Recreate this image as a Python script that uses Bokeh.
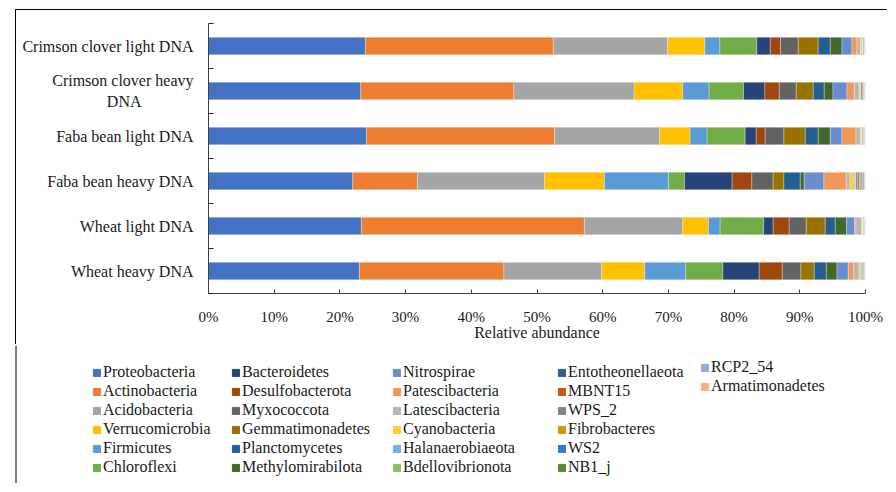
from bokeh.plotting import figure
from bokeh.models import (Range1d, FixedTicker, Legend, LegendItem, ColumnDataSource,
                          PrintfTickFormatter, Span)
from bokeh.embed import file_html
from bokeh.resources import INLINE

# ---------------- data ----------------
categories = ["Crimson clover light DNA", "Crimson clover heavy DNA", "Faba bean light DNA",
              "Faba bean heavy DNA", "Wheat light DNA", "Wheat heavy DNA"]
NB = "\u00a0"
category_labels = ["Crimson clover light DNA", "Crimson clover heavy\nDNA" + NB * 13,
                   "Faba bean light DNA", "Faba bean heavy DNA", "Wheat light DNA",
                   "Wheat heavy DNA"]

phyla = ["Proteobacteria", "Actinobacteria", "Acidobacteria", "Verrucomicrobia", "Firmicutes",
         "Chloroflexi", "Bacteroidetes", "Desulfobacterota", "Myxococcota", "Gemmatimonadetes",
         "Planctomycetes", "Methylomirabilota", "Nitrospirae", "Patescibacteria", "Latescibacteria",
         "Cyanobacteria", "Halanaerobiaeota", "Bdellovibrionota", "Entotheonellaeota", "MBNT15",
         "WPS_2", "Fibrobacteres", "WS2", "NB1_j", "RCP2_54", "Armatimonadetes"]

Proteobacteria = [23.88, 23.17, 24.03, 21.95, 23.27, 22.97]
Actinobacteria = [28.60, 23.31, 28.65, 9.85, 33.94, 21.99]
Acidobacteria = [17.42, 18.29, 16.00, 19.36, 14.98, 14.89]
Verrucomicrobia = [5.64, 7.42, 4.62, 9.10, 3.91, 6.55]
Firmicutes = [2.29, 4.01, 2.59, 9.75, 1.77, 6.25]
Chloroflexi = [5.63, 5.24, 5.79, 2.44, 6.62, 5.64]
Bacteroidetes = [2.04, 3.25, 1.68, 7.25, 1.46, 5.53]
Desulfobacterota = [1.57, 2.18, 1.37, 3.00, 2.44, 3.51]
Myxococcota = [2.69, 2.59, 2.85, 3.25, 2.59, 2.84]
Gemmatimonadetes = [3.04, 2.59, 3.25, 1.63, 2.89, 2.03]
Planctomycetes = [1.84, 1.67, 1.98, 2.49, 1.53, 1.83]
Methylomirabilota = [1.78, 1.33, 1.83, 0.60, 1.73, 1.63]
Nitrospirae = [1.52, 2.13, 1.78, 3.00, 1.22, 1.72]
Patescibacteria = [0.76, 1.11, 2.13, 3.40, 0.20, 0.82]
Latescibacteria = [0.57, 0.72, 0.66, 0.57, 0.87, 0.81]
Cyanobacteria = [0.25, 0.20, 0.20, 0.65, 0.15, 0.20]
Halanaerobiaeota = [0.08, 0.10, 0.06, 0.20, 0.05, 0.10]
Bdellovibrionota = [0.04, 0.05, 0.04, 0.10, 0.03, 0.15]
Entotheonellaeota = [0.10, 0.20, 0.10, 0.20, 0.08, 0.08]
MBNT15 = [0.06, 0.10, 0.04, 0.25, 0.04, 0.10]
WPS_2 = [0.04, 0.05, 0.06, 0.10, 0.03, 0.10]
Fibrobacteres = [0.04, 0.08, 0.05, 0.20, 0.05, 0.08]
WS2 = [0.03, 0.05, 0.10, 0.15, 0.04, 0.05]
NB1_j = [0.03, 0.04, 0.04, 0.10, 0.03, 0.05]
RCP2_54 = [0.04, 0.06, 0.05, 0.25, 0.04, 0.04]
Armatimonadetes = [0.02, 0.06, 0.05, 0.16, 0.04, 0.04]

series_values = [Proteobacteria, Actinobacteria, Acidobacteria, Verrucomicrobia, Firmicutes,
                 Chloroflexi, Bacteroidetes, Desulfobacterota, Myxococcota, Gemmatimonadetes,
                 Planctomycetes, Methylomirabilota, Nitrospirae, Patescibacteria, Latescibacteria,
                 Cyanobacteria, Halanaerobiaeota, Bdellovibrionota, Entotheonellaeota, MBNT15,
                 WPS_2, Fibrobacteres, WS2, NB1_j, RCP2_54, Armatimonadetes]

colors = ["#4472C4", "#ED7D31", "#A5A5A5", "#FFC000", "#5B9BD5", "#70AD47",
          "#264478", "#9E480E", "#636363", "#997300", "#255E91", "#43682B",
          "#698ED0", "#F1975A", "#B7B7B7", "#FFCD33", "#7CAFDD", "#8CC168",
          "#335AA1", "#C55A11", "#848484", "#CC9A06", "#327DC2", "#5A8A39",
          "#8FAADC", "#F4B183"]

x_ticks = [0, 10, 20, 30, 40, 50, 60, 70, 80, 90, 100]

# ---------------- 100% stacked normalisation ----------------
n = len(categories)
totals = [sum(s[i] for s in series_values) for i in range(n)]
data = {"y": [i + 0.5 for i in range(n)]}
for name, vals in zip(phyla, series_values):
    data[name] = [100.0 * v / t for v, t in zip(vals, totals)]
source = ColumnDataSource(data)

FONT = "Liberation Serif"
TXT = "#1a1a1a"

# ---------------- main chart ----------------
p = figure(frame_width=657, frame_height=270,
           min_border_left=192, min_border_right=23, min_border_top=13, min_border_bottom=52,
           x_range=Range1d(0, 100), y_range=Range1d(n, 0),
           output_backend="svg", toolbar_location=None,
           styles={"margin-left": "16px", "margin-top": "10px",
                   "box-shadow": "-1px -1px 0px 0px #000000"})

renderers = p.hbar_stack(phyla, y="y", height=0.39, color=colors, source=source,
                         line_color="white", line_width=0.6, line_alpha=0.5)

p.grid.visible = False
p.outline_line_color = None

ya = p.yaxis[0]
ya.ticker = FixedTicker(ticks=[i + 0.5 for i in range(n)], minor_ticks=list(range(n + 1)))
ya.major_label_overrides = {i + 0.5: lab for i, lab in enumerate(category_labels)}
ya.major_tick_line_color = None
ya.major_tick_in = 0
ya.major_tick_out = 0
ya.minor_tick_in = 5
ya.minor_tick_out = 0
ya.minor_tick_line_color = "#262626"
ya.axis_line_color = "#404040"
ya.major_label_standoff = 15
ya.major_label_text_font = FONT
ya.major_label_text_font_size = "16px"
ya.major_label_text_color = TXT

xa = p.xaxis[0]
xa.ticker = FixedTicker(ticks=x_ticks)
xa.formatter = PrintfTickFormatter(format="%d%%")
xa.major_tick_in = 4
xa.major_tick_out = 0
xa.minor_tick_line_color = None
xa.major_tick_line_color = "#404040"
xa.axis_line_color = "#404040"
xa.major_label_standoff = 15
xa.major_label_text_font = FONT
xa.major_label_text_font_size = "15px"
xa.major_label_text_color = TXT
xa.axis_label = "Relative abundance"
xa.axis_label_text_font = FONT
xa.axis_label_text_font_size = "16px"
xa.axis_label_text_font_style = "normal"
xa.axis_label_text_color = TXT
xa.axis_label_standoff = -4

# ---------------- legend panel (separate root, no frame alignment) ----------------
LEG_W, LEG_H = 888, 138
q = figure(width=LEG_W, height=LEG_H, min_border=0,
           x_range=Range1d(1000, 1100), y_range=Range1d(1000, 1010),
           x_axis_location=None, y_axis_location=None,
           output_backend="svg", toolbar_location=None)
q.grid.visible = False
q.outline_line_color = None
# same stacked series, kept far outside the visible ranges: they only supply the legend swatches
legend_glyphs = q.hbar_stack(phyla, y="y", height=0.39, color=colors, source=source)

# continuation of the figure's left frame line
q.add_layout(Span(location=15.5, location_units="screen", dimension="height",
                  line_color="#000000", line_width=1))

col_x = [92, 231, 392, 557, 700]
col_top = [18, 18, 18, 18, 13]
groups = [range(0, 6), range(6, 12), range(12, 18), range(18, 24), range(24, 26)]
ITEM_H = 18
SPACING = 1
for gx, gt, idxs in zip(col_x, col_top, groups):
    items = [LegendItem(label=phyla[k], renderers=[legend_glyphs[k]]) for k in idxs]
    cnt = len(items)
    total_h = cnt * ITEM_H + (cnt - 1) * SPACING
    lg = Legend(items=items, location=(gx, LEG_H - gt - total_h), orientation="vertical",
                glyph_width=9, glyph_height=9, label_standoff=2, label_height=ITEM_H,
                spacing=SPACING, padding=0, margin=0,
                border_line_color=None, background_fill_alpha=0,
                label_text_font=FONT, label_text_font_size="16px", label_text_color=TXT)
    q.add_layout(lg, "center")

open("out.html", "w").write(file_html([p, q], INLINE))
